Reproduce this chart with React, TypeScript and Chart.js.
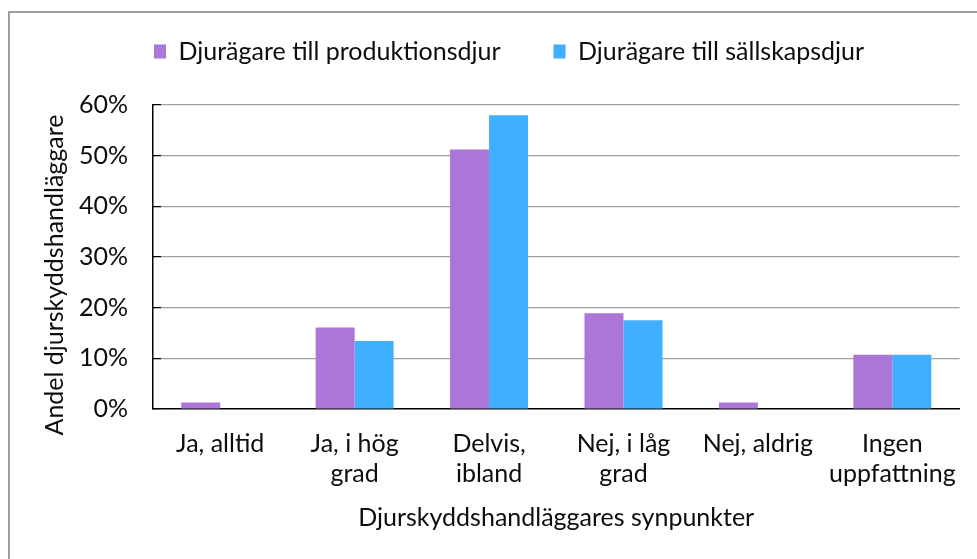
import React, { useEffect, useRef } from 'react';
import { Chart, registerables } from 'chart.js';

Chart.register(...registerables);

const categories: (string | string[])[] = [
  'Ja, alltid',
  ['Ja, i hög', 'grad'],
  ['Delvis,', 'ibland'],
  ['Nej, i låg', 'grad'],
  'Nej, aldrig',
  ['Ingen', 'uppfattning'],
];
const seriesNames = ['Djurägare till produktionsdjur', 'Djurägare till sällskapsdjur'];
const produktionsdjur = [1.3, 16.1, 51.2, 18.9, 1.3, 10.7];
const sallskapsdjur = [0, 13.4, 58.0, 17.5, 0, 10.7];
const yMin = 0;
const yMax = 60;
const yStep = 10;
const xTitle = 'Djurskyddshandläggares synpunkter';
const yTitle = 'Andel djurskyddshandläggare';

const FONT = "Lato, 'Open Sans', sans-serif";
const FS = 25;
const TEXT = '#0d0d0d';
const PURPLE = '#ab76d8';
const BLUE = '#40afff';

const legendPlace = {
  id: 'legendPlace',
  beforeDraw(chart: any) {
    const lg = chart.legend;
    if (!lg) return;
    const pad = lg.options.labels.padding;
    const w = lg.right - lg.left;
    lg.left = 154 - pad;
    lg.right = lg.left + w;
    lg.top = 39 - pad;
  },
};

const legendHeight = {
  id: 'legendHeight',
  afterInit(chart: any) {
    const lg = chart.legend;
    if (!lg) return;
    const origFit = lg.fit.bind(lg);
    lg.fit = function () {
      origFit();
      this.height = 105;
    };
  },
};

const yTitleShift = {
  id: 'yTitleShift',
  afterLayout(chart: any) {
    const s = chart.scales.y;
    if (!s || s._titleShifted) return;
    s._titleShifted = true;
    const orig = s.drawTitle.bind(s);
    s.drawTitle = function () {
      const t = this.top;
      const b = this.bottom;
      this.top = t + 18;
      this.bottom = b + 18;
      orig();
      this.top = t;
      this.bottom = b;
    };
  },
};

export default function App() {
  const ref = useRef<HTMLCanvasElement | null>(null);
  useEffect(() => {
    if (!ref.current) return;
    const chart = new Chart(ref.current, {
      type: 'bar',
      data: {
        labels: categories,
        datasets: [
          { label: seriesNames[0], data: produktionsdjur, backgroundColor: PURPLE, borderWidth: 0 },
          { label: seriesNames[1], data: sallskapsdjur, backgroundColor: BLUE, borderWidth: 0 },
        ],
      },
      options: {
        responsive: false,
        maintainAspectRatio: false,
        animation: false,
        datasets: { bar: { categoryPercentage: 0.58, barPercentage: 1.0 } },
        layout: { padding: { left: 0, right: 16, top: 0, bottom: 0 } },
        plugins: {
          tooltip: { enabled: false },
          legend: {
            display: true,
            position: 'top',
            align: 'start',
            labels: {
              boxWidth: 12,
              boxHeight: 14,
              padding: 53,
              color: TEXT,
              font: { family: FONT, size: FS },
            },
          },
        },
        scales: {
          x: {
            afterFit: (s: any) => { s.height = 150; },
            grid: { display: false, drawTicks: false },
            border: { display: true, color: '#000', width: 1.5 },
            ticks: {
              color: TEXT,
              padding: 20,
              maxRotation: 0,
              autoSkip: false,
              font: { family: FONT, size: FS, lineHeight: '30px' },
            },
            title: {
              display: true,
              text: xTitle,
              color: TEXT,
              font: { family: FONT, size: FS },
              padding: { top: 0, bottom: 26 },
            },
          },
          y: {
            min: yMin,
            max: yMax,
            afterFit: (s: any) => { s.width = 153; },
            grid: {
              color: (ctx: any) => (ctx.tick && ctx.tick.value === 0 ? 'rgba(0,0,0,0)' : '#a0a0a0'),
              lineWidth: 1.2,
              drawTicks: true,
              tickLength: -8,
              tickColor: '#000',
            },
            border: { display: true, color: '#000', width: 1.5 },
            ticks: {
              stepSize: yStep,
              color: TEXT,
              padding: 33,
              font: { family: FONT, size: FS },
              callback: (v: any) => v + '%',
            },
            title: {
              display: true,
              text: yTitle,
              color: TEXT,
              font: { family: FONT, size: FS },
              padding: { top: 40, bottom: 0 },
            },
          },
        },
      },
      plugins: [legendPlace, legendHeight, yTitleShift],
    });
    return () => chart.destroy();
  }, []);

  return (
    <div style={{ position: 'fixed', left: 0, top: 0, width: 977, height: 559, overflow: 'hidden', background: '#fff' }}>
      <div
        style={{
          position: 'absolute',
          left: 8,
          top: 11,
          width: 2000,
          height: 2000,
          borderLeft: '2px solid #9e9e9e',
          borderTop: '2px solid #9e9e9e',
        }}
      />
      <canvas
        ref={ref}
        width={977}
        height={559}
        style={{ position: 'absolute', left: 0, top: 0, width: 977, height: 559 }}
      />
    </div>
  );
}
